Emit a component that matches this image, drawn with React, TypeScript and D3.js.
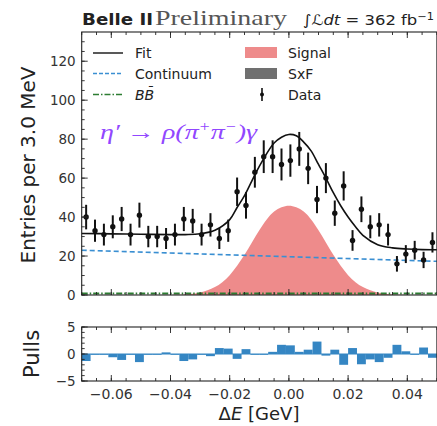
import React from "react";
import * as d3 from "d3";

// ---- data ----
const binLow = -0.07;
const binWidth = 0.003;
const counts = [40, 33, 31, 35, 39, 31, 41, 30, 30, 29, 31, 39, 38, 31, 36, 29, 33, 53, 46, 63,
  71, 71, 67, 69, 75, 65, 49, 60, 42, 56, 28, 44, 35, 36, 31, 16, 21, 23, 18, 27];
const errors = [6.3, 5.7, 5.6, 5.9, 6.2, 5.6, 6.4, 5.5, 5.5, 5.4, 5.6, 6.2, 6.2, 5.6, 6.0, 5.4, 5.7, 7.3, 6.8, 7.9,
  8.4, 8.4, 8.2, 8.3, 8.7, 8.1, 7.0, 7.7, 6.5, 7.5, 5.3, 6.6, 5.9, 6.0, 5.6, 4.0, 4.6, 4.8, 4.2, 5.2];
const pulls = [-1.3, -0.1, 0, -0.6, -1.1, 0, -1.5, 0, 0, 0.3, 0, -1.3, -1.0, 0, -0.4, 1.1, 1.0, -0.9, 0.9, -0.1,
  -0.1, 0.4, 1.7, 1.6, 0.4, 0.8, 2.3, -0.3, 0.8, -2.0, 1.1, -1.9, -1.0, -1.5, -0.7, 1.7, 0.5, 0, 1.2, -0.7];

const fitX = [-0.07, -0.06, -0.05, -0.04, -0.035, -0.03, -0.025, -0.02, -0.0175, -0.015, -0.0125, -0.01, -0.0075, -0.005, -0.0025, 0,
  0.0025, 0.005, 0.0075, 0.01, 0.0125, 0.015, 0.0175, 0.02, 0.0225, 0.025, 0.03, 0.035, 0.04, 0.045, 0.05];
const fitY = [31.6, 31.4, 31.2, 31.0, 31.0, 31.4, 33.2, 38.7, 44.9, 51, 58.6, 66, 72.6, 78, 81, 82.4,
  81.7, 78.5, 74.0, 67, 60, 52.5, 45.8, 40, 35, 30.6, 25.8, 24.2, 23.6, 23.3, 23.2];

const contX = [-0.07, 0.05];
const contY = [23, 17.3];

const bbX = [-0.07, 0.05];
const bbY = [0.8, 0.8];

const sigX = [-0.045, -0.04, -0.0375, -0.035, -0.0325, -0.03, -0.0275, -0.025, -0.0225, -0.02, -0.0175, -0.015, -0.0125, -0.01, -0.0075, -0.005, -0.0025, 0,
  0.0025, 0.005, 0.0075, 0.01, 0.0125, 0.015, 0.0175, 0.02, 0.0225, 0.025, 0.0275, 0.03, 0.0325, 0.035, 0.0375, 0.04, 0.045];
const sigY = [0, 0, 0.1, 0.3, 0.7, 1.3, 2.4, 4.1, 6.6, 10.2, 15, 20.6, 27, 33.2, 38.8, 42.8, 45.0, 45.8,
  45.0, 42.8, 38.8, 33.2, 27, 20.6, 15, 10.2, 6.6, 4.1, 2.4, 1.3, 0.7, 0.3, 0.1, 0, 0];

const yTicks = [0, 20, 40, 60, 80, 100, 120];
const xTicks = [-0.06, -0.04, -0.02, 0.0, 0.02, 0.04];
const xTickLabels = ["\u22120.06", "\u22120.04", "\u22120.02", "0.00", "0.02", "0.04"];
const pTicks = [-5, 0, 5];
const pTickLabels = ["\u22125", "0", "5"];

// ---- layout ----
const W = 437, H = 426;
const left = 81.7, right = 436.9;
const mainTop = 32, mainBottom = 295;
const pullTop = 327, pullBottom = 381;

const SIGNAL = "#ee8b8b";
const CONT = "#3a8fd2";
const BB = "#2d7d32";
const PULL = "#3586c3";
const SANS = "DejaVu Sans, sans-serif";

export default function App() {
  const x = d3.scaleLinear().domain([-0.07, 0.05]).range([left, right]);
  const y = d3.scaleLinear().domain([0, 135]).range([mainBottom, mainTop]);
  const p = d3.scaleLinear().domain([-5, 5]).range([pullBottom, pullTop]);

  const centers = counts.map((_, i) => binLow + (i + 0.5) * binWidth);

  const line = d3.line<[number, number]>().x(d => x(d[0])).y(d => y(d[1]));
  const smooth = d3.line<[number, number]>().x(d => x(d[0])).y(d => y(d[1])).curve(d3.curveCatmullRom.alpha(0.5));
  const area = d3.area<[number, number]>().x(d => x(d[0])).y0(y(0)).y1(d => y(d[1])).curve(d3.curveCatmullRom.alpha(0.5));

  const fitPts = fitX.map((v, i) => [v, fitY[i]] as [number, number]);
  const sigPts = sigX.map((v, i) => [v, sigY[i]] as [number, number]);
  const contPts = contX.map((v, i) => [v, contY[i]] as [number, number]);
  const bbPts = bbX.map((v, i) => [v, bbY[i]] as [number, number]);

  const xMinor = d3.range(-0.07, 0.0501, 0.005);
  const yMinor = d3.range(0, 135, 5);
  const pMinor = d3.range(-5, 5.01, 1);

  const tickCol = "#222";
  const ticksX = (top: number, bottom: number) => (
    <g stroke={tickCol} strokeWidth={0.9}>
      {xMinor.map((t, i) => (
        <g key={i}>
          <line x1={x(t)} x2={x(t)} y1={bottom} y2={bottom - 3} />
          <line x1={x(t)} x2={x(t)} y1={top} y2={top + 3} />
        </g>
      ))}
      {xTicks.map((t, i) => (
        <g key={"M" + i}>
          <line x1={x(t)} x2={x(t)} y1={bottom} y2={bottom - 6} />
          <line x1={x(t)} x2={x(t)} y1={top} y2={top + 6} />
        </g>
      ))}
    </g>
  );

  return (
    <svg width={W} height={H} style={{ position: "absolute", left: 0, top: 0, background: "#fff" }}>
      <rect x={0} y={0} width={W} height={H} fill="#fff" />
      {/* title */}
      <text x={82} y={25} fontFamily={SANS} fontWeight="bold" fontSize={16} fill="#222" textLength={71} lengthAdjust="spacingAndGlyphs">Belle II</text>
      <text x={155} y={25} fontFamily="Liberation Serif, serif" fontSize={21} fill="#555" textLength={132} lengthAdjust="spacingAndGlyphs">Preliminary</text>
      <text x={303} y={25} fontFamily={SANS} fontSize={14.5} fill="#222" textLength={131} lengthAdjust="spacingAndGlyphs">
        <tspan fontStyle="italic">{"\u222B\u2112dt"}</tspan>
        <tspan>{" = 362 fb"}</tspan>
        <tspan dy={-5} fontSize={10}>{"\u22121"}</tspan>
      </text>

      {/* main panel */}
      <path d={area(sigPts) || ""} fill={SIGNAL} />
      <path d={line(bbPts) || ""} fill="none" stroke={BB} strokeWidth={2} strokeDasharray="6,2,1.5,2" />
      <path d={line(contPts) || ""} fill="none" stroke={CONT} strokeWidth={1.6} strokeDasharray="5,3" />
      <path d={smooth(fitPts) || ""} fill="none" stroke="#111" strokeWidth={1.6} />
      <g>
        {counts.map((c, i) => (
          <g key={i}>
            <line x1={x(centers[i])} x2={x(centers[i])} y1={y(c - errors[i])} y2={y(c + errors[i])} stroke="#111" strokeWidth={2} />
            <circle cx={x(centers[i])} cy={y(c)} r={2.7} fill="#111" />
          </g>
        ))}
      </g>

      {/* legend */}
      <g fontFamily={SANS} fontSize={14} fill="#222">
        <line x1={93} x2={123} y1={53} y2={53} stroke="#222" strokeWidth={1.5} />
        <text x={135} y={58}>Fit</text>
        <line x1={93} x2={123} y1={73.5} y2={73.5} stroke={CONT} strokeWidth={1.5} strokeDasharray="4,2" />
        <text x={135} y={78.5}>Continuum</text>
        <line x1={93} x2={123} y1={94.5} y2={94.5} stroke={BB} strokeWidth={1.5} strokeDasharray="6,2,1.5,2" />
        <text x={135} y={99.5} fontStyle="italic">{"BB\u0304"}</text>
        <rect x={245} y={47} width={32} height={11} fill={SIGNAL} />
        <text x={288} y={58}>Signal</text>
        <rect x={245} y={68} width={32} height={11} fill="#707070" />
        <text x={288} y={78.5}>SxF</text>
        <line x1={262} x2={262} y1={88} y2={101} stroke="#111" strokeWidth={1.6} />
        <circle cx={262} cy={94.5} r={2} fill="#111" />
        <text x={288} y={99.5}>Data</text>
      </g>

      {/* process label */}
      <text x={100} y={139} fontFamily="Liberation Serif, serif" fontStyle="italic" fontSize={22} fill="#9147ff" textLength={157} lengthAdjust="spacingAndGlyphs">
        <tspan>{"\u03B7\u2032 \u2192 \u03C1(\u03C0"}</tspan>
        <tspan dy={-8} fontSize={14}>+</tspan>
        <tspan dy={8}>{"\u03C0"}</tspan>
        <tspan dy={-8} fontSize={14}>{"\u2212"}</tspan>
        <tspan dy={8}>{")\u03B3"}</tspan>
      </text>

      {/* main frame and ticks */}
      <rect x={left} y={mainTop} width={right - left} height={mainBottom - mainTop} fill="none" stroke="#222" strokeWidth={1.1} />
      {ticksX(mainTop, mainBottom)}
      <g stroke={tickCol} strokeWidth={0.9}>
        {yMinor.map((t, i) => <line key={i} x1={left} x2={left + 3} y1={y(t)} y2={y(t)} />)}
        {yTicks.map((t, i) => <line key={"M" + i} x1={left} x2={left + 6} y1={y(t)} y2={y(t)} />)}
      </g>
      <g fontFamily={SANS} fontSize={13.5} fill="#333" textAnchor="end">
        {yTicks.map((t, i) => <text key={i} x={left - 6} y={y(t) + 5}>{t}</text>)}
      </g>
      <text transform={`translate(35,165) rotate(-90)`} textAnchor="middle" fontFamily={SANS} fontSize={20} fill="#222">Entries per 3.0 MeV</text>

      {/* pulls panel */}
      <g fill={PULL}>
        {pulls.map((v, i) => {
          const x0 = x(binLow + i * binWidth);
          const x1 = x(binLow + (i + 1) * binWidth);
          const yA = p(Math.max(0, v));
          const yB = p(Math.min(0, v));
          return <rect key={i} x={x0} y={yA} width={x1 - x0} height={Math.max(0.8, yB - yA)} />;
        })}
      </g>
      <line x1={left} x2={right} y1={p(0)} y2={p(0)} stroke={PULL} strokeWidth={1} />
      <rect x={left} y={pullTop} width={right - left} height={pullBottom - pullTop} fill="none" stroke="#222" strokeWidth={1.1} />
      {ticksX(pullTop, pullBottom)}
      <g stroke={tickCol} strokeWidth={0.9}>
        {pMinor.map((t, i) => <line key={i} x1={left} x2={left + 3} y1={p(t)} y2={p(t)} />)}
        {pTicks.map((t, i) => <line key={"M" + i} x1={left} x2={left + 6} y1={p(t)} y2={p(t)} />)}
      </g>
      <g fontFamily={SANS} fontSize={13.5} fill="#333" textAnchor="end">
        {pTicks.map((t, i) => <text key={i} x={left - 6} y={p(t) + 5}>{pTickLabels[i]}</text>)}
      </g>
      <text transform={`translate(39,354) rotate(-90)`} textAnchor="middle" fontFamily={SANS} fontSize={21} fill="#222">Pulls</text>
      <g fontFamily={SANS} fontSize={14} fill="#333" textAnchor="middle">
        {xTicks.map((t, i) => <text key={i} x={x(t)} y={399}>{xTickLabels[i]}</text>)}
      </g>
      <text x={259} y={420} textAnchor="middle" fontFamily={SANS} fontSize={18} fill="#222">
        <tspan>{"\u0394"}</tspan>
        <tspan fontStyle="italic">E</tspan>
        <tspan>{" [GeV]"}</tspan>
      </text>
    </svg>
  );
}
